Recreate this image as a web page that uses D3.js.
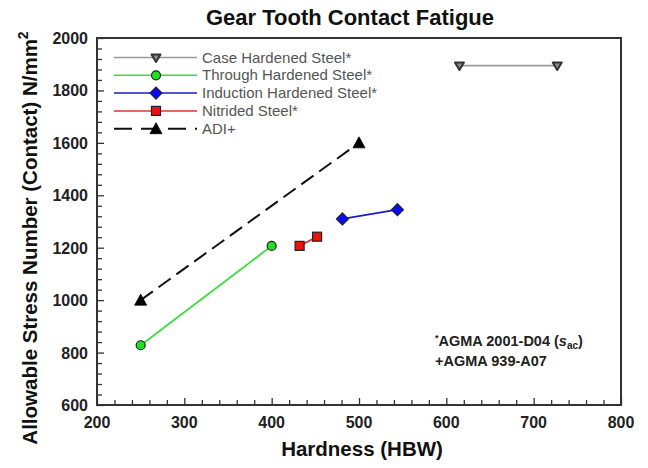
<!DOCTYPE html>
<html>
<head>
<meta charset="utf-8">
<script src="https://cdn.jsdelivr.net/npm/d3@7"></script>
<style>
  html, body { margin: 0; padding: 0; background: #fff; }
  svg { display: block; font-family: Arial, "Liberation Sans", sans-serif; }
</style>
</head>
<body>
<svg id="chart" width="648" height="468"></svg>
<script>
// Allowable contact stress vs. hardness for gear materials
const seriesNames = [
  "Case Hardened Steel*",
  "Through Hardened Steel*",
  "Induction Hardened Steel*",
  "Nitrided Steel*",
  "ADI+"
];
const caseHardness = [615, 727];
const caseStress = [1895, 1895];
const throughHardness = [250, 400];
const throughStress = [828, 1207];
const inductionHardness = [481, 544];
const inductionStress = [1310, 1345];
const nitridedHardness = [432, 452];
const nitridedStress = [1207, 1242];
const adiHardness = [250, 500];
const adiStress = [1000, 1600];

const xTicks = [200, 300, 400, 500, 600, 700, 800];
const yTicks = [600, 800, 1000, 1200, 1400, 1600, 1800, 2000];

const series = [
  { name: seriesNames[0], x: caseHardness, y: caseStress, line: "#9a9a9a", fill: "#8a8a8a", marker: "triDown", dash: null },
  { name: seriesNames[1], x: throughHardness, y: throughStress, line: "#3ddd3d", fill: "#22dd22", marker: "circle", dash: null },
  { name: seriesNames[2], x: inductionHardness, y: inductionStress, line: "#1a1acc", fill: "#0a0aff", marker: "diamond", dash: null },
  { name: seriesNames[3], x: nitridedHardness, y: nitridedStress, line: "#dd3333", fill: "#ee1111", marker: "square", dash: null },
  { name: seriesNames[4], x: adiHardness, y: adiStress, line: "#111", fill: "#000", marker: "triUp", dash: "15,7" }
];

const svg = d3.select("#chart");
const m = { left: 97, top: 38, right: 621, bottom: 405 };

const x = d3.scaleLinear().domain([200, 800]).range([m.left, m.right]);
const y = d3.scaleLinear().domain([600, 2000]).range([m.bottom, m.top]);

const axisColor = "#333";

// Minor and major ticks pointing into the plot
const xAxis = d3.axisBottom(x).tickValues(d3.range(200, 801, 20))
  .tickSize(0).tickFormat("");
const xg = svg.append("g").attr("transform", `translate(0,${m.bottom})`).call(xAxis);
xg.select(".domain").remove();
xg.selectAll(".tick line")
  .attr("y1", 0)
  .attr("y2", d => (d % 100 === 0 ? -7 : -5))
  .attr("stroke", axisColor).attr("stroke-width", 1.3);

const yAxis = d3.axisLeft(y).tickValues(d3.range(600, 2001, 40))
  .tickSize(0).tickFormat("");
const yg = svg.append("g").attr("transform", `translate(${m.left},0)`).call(yAxis);
yg.select(".domain").remove();
yg.selectAll(".tick line")
  .attr("x1", 0)
  .attr("x2", d => (d % 200 === 0 ? 7 : 5))
  .attr("stroke", axisColor).attr("stroke-width", 1.3);

// Frame
svg.append("rect")
  .attr("x", m.left).attr("y", m.top)
  .attr("width", m.right - m.left).attr("height", m.bottom - m.top)
  .attr("fill", "none").attr("stroke", axisColor).attr("stroke-width", 2);

// Tick labels
svg.append("g").selectAll("text").data(xTicks).join("text")
  .attr("x", d => x(d)).attr("y", m.bottom + 23)
  .attr("text-anchor", "middle")
  .attr("font-size", 16).attr("font-weight", "bold").attr("fill", "#222")
  .text(d => d);

svg.append("g").selectAll("text").data(yTicks).join("text")
  .attr("x", m.left - 9).attr("y", d => y(d) + 6)
  .attr("text-anchor", "end")
  .attr("font-size", 16).attr("font-weight", "bold").attr("fill", "#222")
  .text(d => d);

// Titles
svg.append("text")
  .attr("x", 350).attr("y", 25)
  .attr("text-anchor", "middle")
  .attr("font-size", 22).attr("font-weight", "bold").attr("fill", "#111")
  .text("Gear Tooth Contact Fatigue");

svg.append("text")
  .attr("x", 362).attr("y", 456)
  .attr("text-anchor", "middle")
  .attr("font-size", 20.5).attr("font-weight", "bold").attr("fill", "#111")
  .text("Hardness (HBW)");

const yt = svg.append("text")
  .attr("transform", "translate(37,238) rotate(-90)")
  .attr("text-anchor", "middle")
  .attr("font-size", 20.5).attr("font-weight", "bold").attr("fill", "#111");
yt.append("tspan").text("Allowable Stress Number (Contact) N/mm");
yt.append("tspan").attr("dy", -9).attr("font-size", 14).text("2");

// Marker shapes
function drawMarker(g, type, cx, cy, s) {
  const stroke = "#222";
  if (type === "circle") {
    g.append("circle").attr("cx", cx).attr("cy", cy).attr("r", 4.5)
      .attr("fill", s.fill).attr("stroke", stroke).attr("stroke-width", 1.2);
  } else if (type === "square") {
    g.append("rect").attr("x", cx - 4.5).attr("y", cy - 4.5).attr("width", 9).attr("height", 9)
      .attr("fill", s.fill).attr("stroke", stroke).attr("stroke-width", 1.2);
  } else if (type === "diamond") {
    g.append("path").attr("d", `M${cx},${cy - 6}L${cx + 6},${cy}L${cx},${cy + 6}L${cx - 6},${cy}Z`)
      .attr("fill", s.fill).attr("stroke", stroke).attr("stroke-width", 1.2);
  } else if (type === "triDown") {
    g.append("path").attr("d", `M${cx - 4.5},${cy - 3}L${cx + 4.5},${cy - 3}L${cx},${cy + 4.5}Z`)
      .attr("fill", s.fill).attr("stroke", "#333").attr("stroke-width", 2)
      .attr("stroke-linejoin", "round");
  } else if (type === "triUp") {
    g.append("path").attr("d", `M${cx},${cy - 6}L${cx + 6},${cy + 5}L${cx - 6},${cy + 5}Z`)
      .attr("fill", s.fill).attr("stroke", "#000").attr("stroke-width", 0.8);
  }
}

const line = d3.line().x(d => x(d[0])).y(d => y(d[1]));
const plot = svg.append("g");

series.forEach(s => {
  const pts = s.x.map((v, i) => [v, s.y[i]]);
  plot.append("path").datum(pts)
    .attr("d", line)
    .attr("fill", "none")
    .attr("stroke", s.line)
    .attr("stroke-width", s.dash ? 2 : 1.8)
    .attr("stroke-dasharray", s.dash);
  pts.forEach(p => drawMarker(plot, s.marker, x(p[0]), y(p[1]), s));
});

// Legend
const legend = svg.append("g");
series.forEach((s, i) => {
  const ly = 57.5 + i * 17.8;
  legend.append("line")
    .attr("x1", 114).attr("x2", 197).attr("y1", ly).attr("y2", ly)
    .attr("stroke", s.line).attr("stroke-width", s.dash ? 2 : 1.5)
    .attr("stroke-dasharray", s.dash ? "18,9" : null);
  drawMarker(legend, s.marker, 156, ly, s);
  legend.append("text")
    .attr("x", 202).attr("y", ly + 5)
    .attr("font-size", 15).attr("fill", "#555")
    .text(s.name);
});

// Source notes
const notes = svg.append("g").attr("font-weight", "bold").attr("fill", "#222").attr("font-size", 14.5);
const n1 = notes.append("text").attr("x", 435).attr("y", 346);
n1.append("tspan").attr("font-size", 9).attr("dy", -5).text("*");
n1.append("tspan").attr("dy", 5).text("AGMA 2001-D04 (");
n1.append("tspan").attr("font-style", "italic").text("s");
n1.append("tspan").attr("font-size", 10).attr("dy", 3).text("ac");
n1.append("tspan").attr("dy", -3).text(")");
notes.append("text").attr("x", 435).attr("y", 366).text("+AGMA 939-A07");
</script>
</body>
</html>
